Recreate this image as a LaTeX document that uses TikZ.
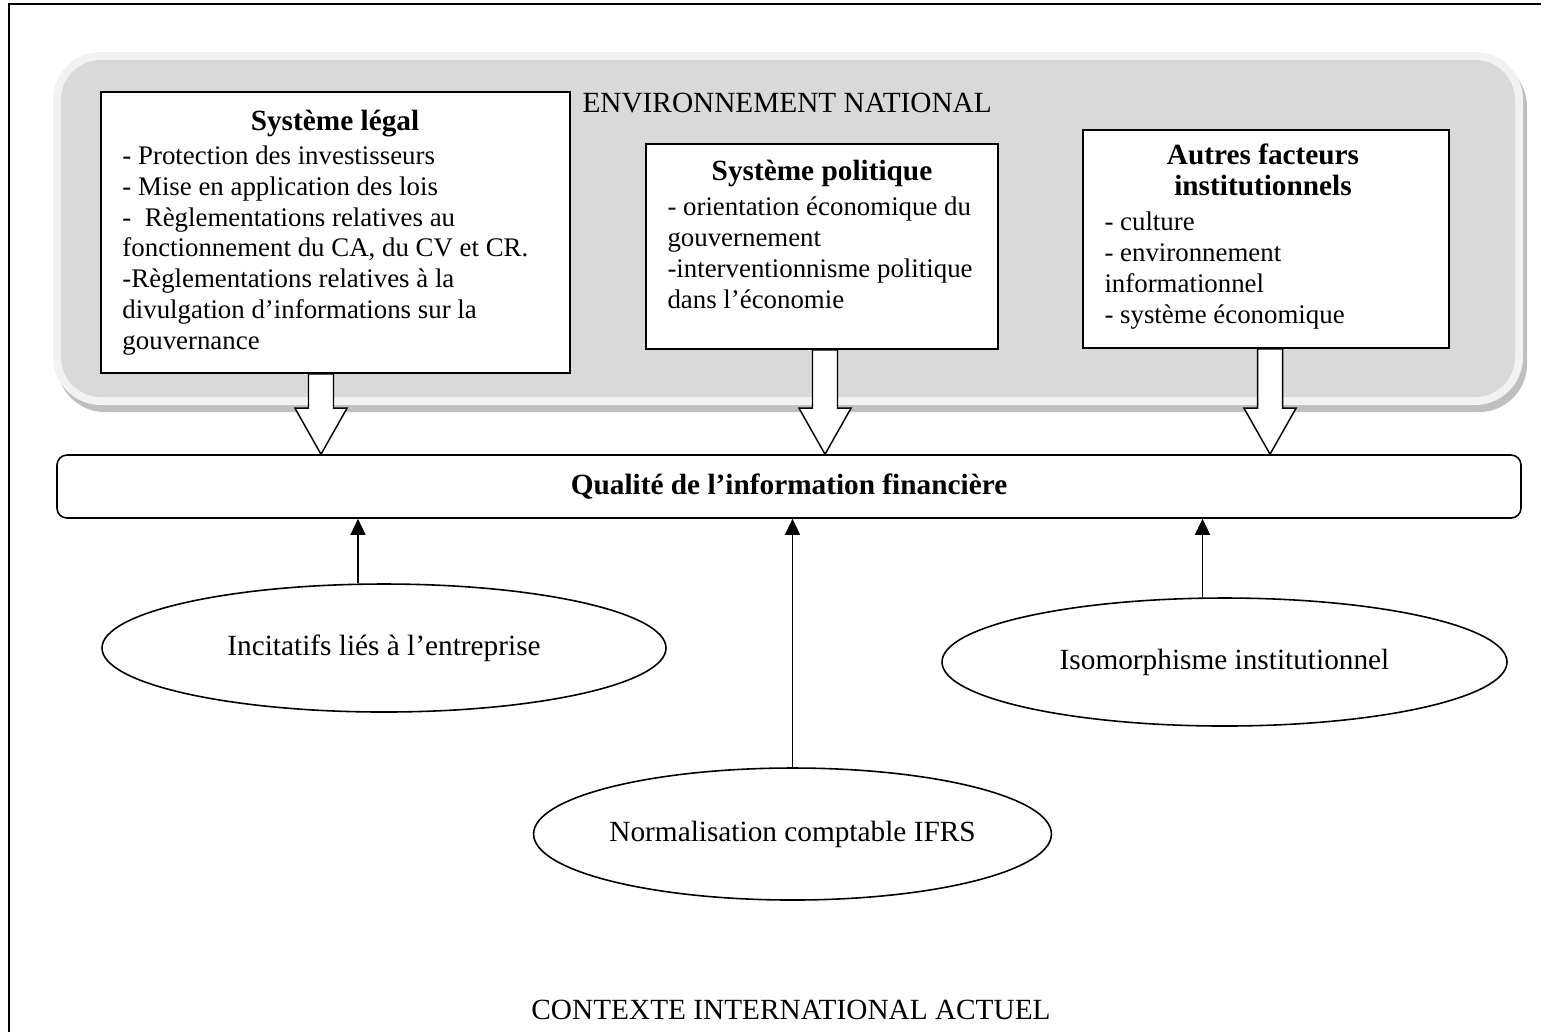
\documentclass[tikz,border=0pt]{standalone}
\usepackage{fontspec}
\setmainfont{Liberation Serif}
\newfontfamily\diagfont{Liberation Serif}
\usetikzlibrary{shapes.geometric,arrows.meta,calc,positioning}
\def\px{0.4096pt}
\newcommand\diagsize{\diagfont\fontsize{12}{12.57}\selectfont}
\newcommand\listsize{\diagfont\fontsize{11}{12.57}\selectfont}
\definecolor{envgray}{HTML}{D9D9D9}
\definecolor{envlight}{HTML}{F2F2F2}
\definecolor{envshadow}{HTML}{BFBFBF}
\tikzset{
  panel/.style={draw, fill=white, line width=0.7pt, inner sep=0pt},
  boxtitle/.style={font=\diagsize\bfseries, inner sep=0pt, anchor=base, align=center},
  boxtext/.style={font=\listsize, inner sep=0pt, anchor=base west, align=left},
  oval/.style={ellipse, draw, line width=0.65pt, inner sep=0pt},
  thinarrow/.style={line width=0.55pt, -{Triangle[length=16*\px,width=15*\px]}},
  blockarrow/.style={draw, fill=white, line width=0.6pt, line join=miter}
}
\begin{document}
\begin{tikzpicture}[x=\px, y=-\px, font=\diagsize]
\useasboundingbox (0,0) rectangle (1547,1032);
% cadre
\draw[line width=0.8pt] (1541,4) -- (9,4) -- (9,1032);
% environnement national
\fill[envshadow, rounded corners=48*\px] (57,59) rectangle (1527,412);
\fill[envlight, rounded corners=48*\px] (53,52) rectangle (1523,405);
\fill[envgray, rounded corners=40*\px] (61,60) rectangle (1515,397);
\node[inner sep=0pt, anchor=base west] (envnat) at (582,112) {ENVIRONNEMENT NATIONAL};
% blocs (textes places sur la ligne de base de leur derniere ligne)
\node[panel, minimum width=469*\px, minimum height=281*\px] (legal) at (335.5,232.5) {};
\node[boxtitle] (legaltitle) at (335,130) {Système légal};
\node[boxtext] (legaltext) at (122,349) {- Protection des investisseurs\\
- Mise en application des lois\\
-\ \ Règlementations relatives au\\
fonctionnement du CA, du CV et CR.\\
-Règlementations relatives à la\\
divulgation d’informations sur la\\
gouvernance};
\node[panel, minimum width=352*\px, minimum height=205*\px] (polit) at (822,246.5) {};
\node[boxtitle] (polittitle) at (822,180) {Système politique};
\node[boxtext] (polittext) at (667,308) {- orientation économique du\\
gouvernement\\
-interventionnisme politique\\
dans l’économie};
\node[panel, minimum width=366*\px, minimum height=218*\px] (autres) at (1266,239) {};
\node[boxtitle] (autrestitle) at (1263,195) {Autres facteurs\\institutionnels};
\node[boxtext] (autrestext) at (1104,323) {- culture\\
- environnement\\
informationnel\\
- système économique};
% qualite
\node[draw, rounded corners=10*\px, line width=0.65pt, minimum width=1464*\px, minimum height=63*\px] (qual) at (789,486.5) {\textbf{Qualité de l’information financière}};
% fleches larges
\foreach \src/\cx in {legal/321, polit/825, autres/1270} {
  \coordinate (ax) at (\cx,0);
  \coordinate (top) at (\src.south -| ax);
  \coordinate (tip) at (qual.north -| ax);
  \draw[blockarrow] ($(top)+(-12.5,0)$) -- ($(tip)+(-12.5,-46)$) -- ++(-13.5,0) -- (tip) -- ++(26,-46) -- ++(-13.5,0) -- ($(top)+(12.5,0)$) -- cycle;
}
% facteurs
\node[oval, minimum width=564*\px, minimum height=128*\px] (incit) at (384,648) {Incitatifs liés à l’entreprise};
\node[oval, minimum width=565*\px, minimum height=128*\px] (isomo) at (1224.5,662) {Isomorphisme institutionnel};
\node[oval, minimum width=487*\px, minimum height=132*\px] (norm) at (792.5,834) {Normalisation comptable IFRS};
\coordinate (incittop) at ([xshift=-26*\px]incit.north);
\coordinate (isomotop) at ([xshift=-22*\px]isomo.north);
\draw[thinarrow] (incittop) -- (incittop |- qual.south);
\draw[thinarrow] (norm.north) -- (norm.north |- qual.south);
\draw[thinarrow] (isomotop) -- (isomotop |- qual.south);
\node[inner sep=0pt] (contexte) at (791,1010) {CONTEXTE INTERNATIONAL ACTUEL};
\end{tikzpicture}
\end{document}
